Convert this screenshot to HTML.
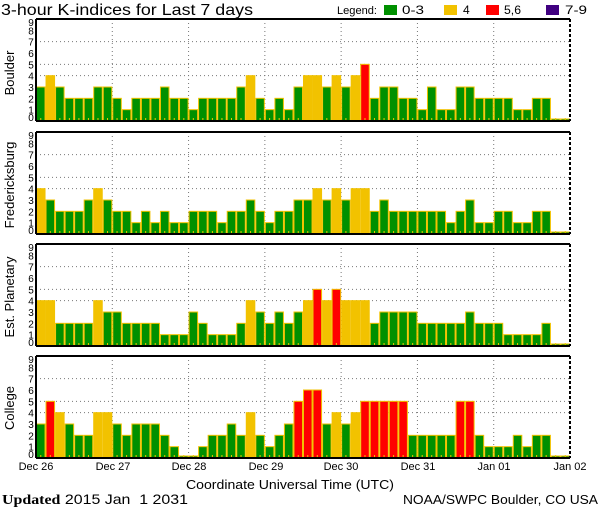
<!DOCTYPE html>
<html><head><meta charset="utf-8"><style>
html,body{margin:0;padding:0;background:#fff;}
svg{display:block;font-family:"Liberation Sans",sans-serif;}
</style></head><body>
<svg id="s" width="600" height="510" viewBox="0 0 600 510" xmlns="http://www.w3.org/2000/svg">
<rect width="600" height="510" fill="#fff"/>
<text x="1" y="15" font-size="16" textLength="252" lengthAdjust="spacingAndGlyphs">3-hour K-indices for Last 7 days</text>
<text x="337" y="14" font-size="11" textLength="40" lengthAdjust="spacingAndGlyphs">Legend:</text>
<rect x="384" y="5" width="13" height="10" fill="#009000"/>
<text x="402" y="14" font-size="12" textLength="22" lengthAdjust="spacingAndGlyphs">0-3</text>
<rect x="444" y="5" width="13" height="10" fill="#f2c200"/>
<text x="463" y="14" font-size="12">4</text>
<rect x="486" y="5" width="13" height="10" fill="#ff0000"/>
<text x="504" y="14" font-size="12" textLength="17" lengthAdjust="spacingAndGlyphs">5,6</text>
<rect x="546" y="5" width="13" height="10" fill="#400080"/>
<text x="565" y="14" font-size="12" textLength="22" lengthAdjust="spacingAndGlyphs">7-9</text>
<g id="g"></g>
<text transform="translate(14,73) rotate(-90)" font-size="13" text-anchor="middle">Boulder</text>
<text transform="translate(14,185) rotate(-90)" font-size="13" text-anchor="middle">Fredericksburg</text>
<text transform="translate(14,297) rotate(-90)" font-size="13" text-anchor="middle">Est. Planetary</text>
<text transform="translate(14,408) rotate(-90)" font-size="13" text-anchor="middle">College</text>
<g font-size="11" text-anchor="middle">
<text x="36" y="470">Dec 26</text><text x="113" y="470">Dec 27</text><text x="189" y="470">Dec 28</text><text x="266" y="470">Dec 29</text><text x="341" y="470">Dec 30</text><text x="418" y="470">Dec 31</text><text x="494" y="470">Jan 01</text><text x="570" y="470">Jan 02</text>
</g>
<text x="290" y="489" font-size="13" text-anchor="middle" textLength="208" lengthAdjust="spacingAndGlyphs">Coordinate Universal Time (UTC)</text>
<text x="2" y="504" font-size="14" style="white-space:pre" textLength="186" lengthAdjust="spacingAndGlyphs"><tspan font-family="Liberation Serif,serif" font-weight="bold">Updated</tspan> 2015 Jan  1 2031</text>
<text x="598" y="504" font-size="13" text-anchor="end" textLength="195" lengthAdjust="spacingAndGlyphs">NOAA/SWPC Boulder, CO USA</text>
</svg>
<script>
var data=[
[3,4,3,2,2,2,3,3, 2,1,2,2,2,3,2,2, 1,2,2,2,2,3,4,2, 1,2,1,3,4,4,3,4, 3,4,5,2,3,3,2,2, 1,3,1,1,3,3,2,2, 2,2,1,1,2,2,0,0],
[4,3,2,2,2,3,4,3, 2,2,1,2,1,2,1,1, 2,2,2,1,2,2,3,2, 1,2,2,3,3,4,3,4, 3,4,4,2,3,2,2,2, 2,2,2,1,2,3,1,1, 2,2,1,1,2,2,0,0],
[4,4,2,2,2,2,4,3, 3,2,2,2,2,1,1,1, 3,2,1,1,1,2,4,3, 2,3,2,3,4,5,4,5, 4,4,4,2,3,3,3,3, 2,2,2,2,2,3,2,2, 2,1,1,1,1,2,0,0],
[3,5,4,3,2,2,4,4, 3,2,3,3,3,2,1,0, 0,1,2,2,3,2,4,2, 1,2,3,5,6,6,3,4, 3,4,5,5,5,5,5,2, 2,2,2,2,5,5,2,1, 1,1,2,1,2,2,0,0]];
var tops=[19,132,244,356],H=102,u=H/9,L=36,R=570,bw=(R-L)/56;
var o='';
function col(v){return v<=3?'#009000':v==4?'#f2c200':v<=6?'#ff0000':'#400080';}
for(var p=0;p<4;p++){var t=tops[p],b=t+H;
 [4,5,7].forEach(function(k){var y=b-k*u;o+='<line x1="'+L+'" x2="'+R+'" y1="'+y+'" y2="'+y+'" stroke="#777" stroke-dasharray="1,3"/>';});
 for(var d=1;d<7;d++){var x=L+d*bw*8;o+='<line x1="'+x+'" x2="'+x+'" y1="'+t+'" y2="'+b+'" stroke="#777" stroke-dasharray="1,3"/>';}
 for(var n=0;n<56;n++){var v=data[p][n],x=L+n*bw,h=v==0?2:v*u;
  o+='<rect x="'+(x+0.5)+'" y="'+(b-h)+'" width="'+(bw-1)+'" height="'+h+'" fill="'+col(v)+'" stroke="#f2c200" stroke-width="1"/>';
  o+='<rect x="'+(x+bw/2-0.5)+'" y="'+(b-3)+'" width="1" height="3" fill="#f2c200"/>';}
 o+='<line x1="'+L+'" x2="'+R+'" y1="'+t+'" y2="'+t+'" stroke="#000" stroke-width="2"/>';
 o+='<line x1="'+L+'" x2="'+R+'" y1="'+b+'" y2="'+b+'" stroke="#000" stroke-width="2"/>';
 o+='<line x1="'+L+'" x2="'+L+'" y1="'+t+'" y2="'+b+'" stroke="#000" stroke-width="2"/>';
 o+='<line x1="'+R+'" x2="'+R+'" y1="'+t+'" y2="'+b+'" stroke="#000" stroke-width="2" stroke-dasharray="3,2"/>';
 for(var k=0;k<=9;k++){var y=b-k*u+4;if(k==0)y=b;if(k==9)y=t+7;
  o+='<text x="31" y="'+y+'" font-size="10" text-anchor="middle">'+k+'</text>';}
}
document.getElementById('g').innerHTML=o;
</script>
</body></html>
